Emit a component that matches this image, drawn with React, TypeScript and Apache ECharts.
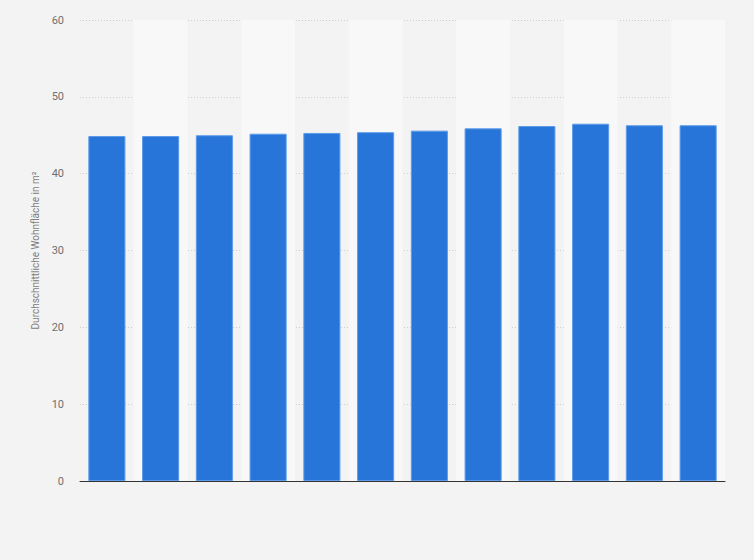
import React, { useEffect, useRef } from 'react';
import * as echarts from 'echarts';

// Jahre (Achsenbeschriftung im Original ausgeblendet)
const years = ['2010', '2011', '2012', '2013', '2014', '2015', '2016', '2017', '2018', '2019', '2020', '2021'];
// Durchschnittliche Wohnfläche in m²
const areaValues = [44.9, 44.9, 45.0, 45.2, 45.3, 45.4, 45.6, 45.9, 46.2, 46.5, 46.3, 46.3];
const yMin = 0;
const yMax = 60;
const yStep = 10;
const yAxisTitle = 'Durchschnittliche Wohnfläche in m²';

const App: React.FC = () => {
	const chartRef = useRef<HTMLDivElement>(null);

	useEffect(() => {
		if (!chartRef.current) return;
		const chart = echarts.init(chartRef.current, undefined, { renderer: 'svg' });

		const option: echarts.EChartsOption = {
			animation: false,
			backgroundColor: '#f3f3f3',
			textStyle: { fontFamily: 'Roboto, Arial, sans-serif' },
			grid: {
				left: 80,
				right: 29,
				top: 20,
				bottom: 79
			},
			xAxis: {
				type: 'category',
				data: years,
				axisLine: { show: true, lineStyle: { color: '#333', width: 1 } },
				axisTick: { show: false },
				axisLabel: { show: false },
				splitArea: {
					show: true,
					areaStyle: { color: ['rgba(0,0,0,0)', '#f8f8f8'] }
				}
			},
			yAxis: {
				type: 'value',
				min: yMin,
				max: yMax,
				interval: yStep,
				name: yAxisTitle,
				nameLocation: 'middle',
				nameGap: 38,
				nameTextStyle: { color: '#808080', fontSize: 10 },
				axisLine: { show: false },
				axisTick: { show: false },
				axisLabel: { color: '#707070', fontSize: 11, margin: 16 },
				splitLine: {
					lineStyle: { color: '#cfcfcf', type: [1, 2], width: 1 }
				}
			},
			series: [
				{
					name: yAxisTitle,
					type: 'bar',
					data: areaValues,
					barCategoryGap: '31%',
					itemStyle: {
						color: '#2775d8',
						borderColor: '#5d9bea',
						borderWidth: 1
					}
				}
			]
		};

		chart.setOption(option);

		return () => {
			chart.dispose();
		};
	}, []);

	return (
		<div
			ref={chartRef}
			style={{ position: 'fixed', left: 0, top: 0, width: '754px', height: '560px' }}
		/>
	);
};

export default App;
